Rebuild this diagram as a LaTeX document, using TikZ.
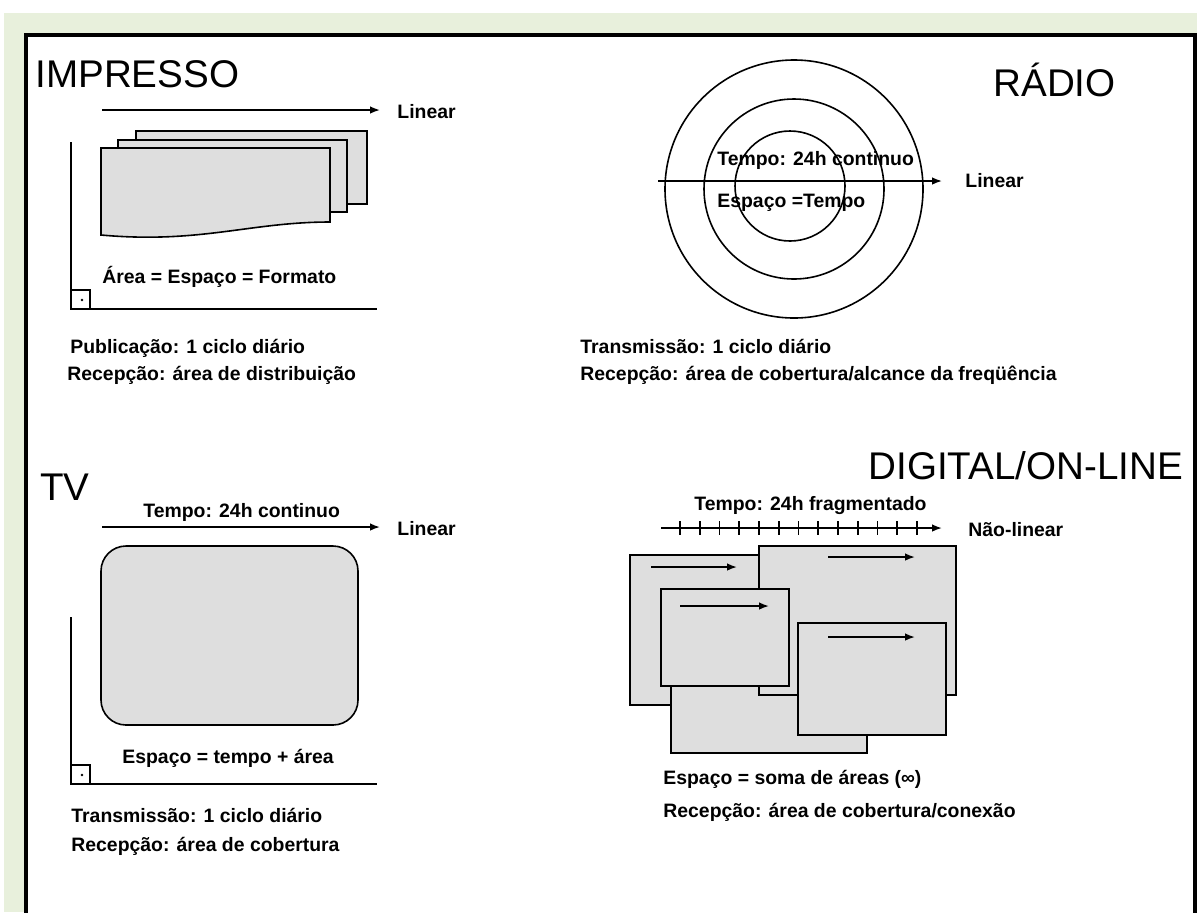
\documentclass[tikz,border=0pt]{standalone}
\usepackage{fontspec}
\setmainfont{Liberation Sans}
\usetikzlibrary{arrows.meta,positioning,calc}

\definecolor{bggreen}{RGB}{232,240,220}
\definecolor{pagegray}{RGB}{222,222,222}
\newcommand{\ttlfont}{\fontsize{19.3}{23}\selectfont}
\newcommand{\lblfont}{\bfseries\fontsize{9.7}{12}\selectfont}

\begin{document}
\begin{tikzpicture}[x=0.5pt, y=-0.5pt, >={Latex[length=5pt,width=3.8pt]},
  ttl/.style={font=\ttlfont, inner sep=0pt, anchor=base west},
  lbl/.style={font=\lblfont, inner sep=0pt, anchor=base west},
  axis/.style={->, line width=0.8pt},
  edge/.style={line width=0.8pt},
  sheet/.style={draw, fill=pagegray, line width=0.8pt}]
  % fundo e moldura
  \useasboundingbox (0,0) rectangle (1197,912);
  \fill[bggreen] (4,13) rectangle (1197,912);
  \fill[white] (26,35) rectangle (1195,920);
  \draw[line width=2pt] (26,925) -- (26,35) -- (1195,35) -- (1195,925);

  % IMPRESSO
  \node[ttl] (impTitle) at (35,87) {IMPRESSO};
  \coordinate (impA0) at (102,110);
  \coordinate (impA1) at (380,110);
  \draw[axis] (impA0) -- (impA1);
  \node[lbl] (impLin) at (397,118) {Linear};
  \draw[sheet] (136,131) rectangle (367,204);
  \draw[sheet] (118,140) rectangle (347,212);
  \draw[sheet] (101,148) -- (330,148) -- (330,222)
    .. controls (250,222) and (200,244) .. (101,235) -- cycle;
  \draw[edge] (71,142) -- (71,309) -- (377,309);
  \draw[edge] (71,290) -| (90,309);
  \fill (82,300) circle (1.4);
  \node[lbl] (impArea) at (102,283) {Área = Espaço = Formato};
  \node[lbl] (impPub) at (70,353) {Publicação: 1 ciclo diário};
  \node[lbl] (impRec) at (67,380) {Recepção: área de distribuição};

  % RÁDIO
  \node[ttl] (radTitle) at (993,96) {RÁDIO};
  \coordinate (radC) at (794,189);
  \draw[edge] (radC) circle (129);
  \draw[edge] (radC) circle (90);
  \draw[edge] (790,186) circle (55);
  \coordinate (radA0) at (658,181);
  \coordinate (radA1) at (942,181);
  \draw[axis] (radA0) -- (radA1);
  \node[lbl] (radLin) at (965,187) {Linear};
  \node[lbl] (radTempo) at (717,165) {Tempo: 24h continuo};
  \node[lbl] (radEsp) at (717,207) {Espaço =Tempo};
  \node[lbl] (radTrans) at (580,353) {Transmissão: 1 ciclo diário};
  \node[lbl] (radRec) at (580,380) {Recepção: área de cobertura/alcance da freqüência};

  % TV
  \node[ttl] (tvTitle) at (40,500) {TV};
  \node[lbl] (tvTempo) at (143,517) {Tempo: 24h continuo};
  \coordinate (tvA0) at (102,527);
  \coordinate (tvA1) at (380,527);
  \draw[axis] (tvA0) -- (tvA1);
  \node[lbl] (tvLin) at (397,535) {Linear};
  \draw[sheet, rounded corners=12.5pt] (101,546) rectangle (358,725);
  \draw[edge] (71,617) -- (71,784) -- (377,784);
  \draw[edge] (71,765) -| (90,784);
  \fill (82,775) circle (1.4);
  \node[lbl] (tvEsp) at (122,763) {Espaço = tempo + área};
  \node[lbl] (tvTrans) at (71,822) {Transmissão: 1 ciclo diário};
  \node[lbl] (tvRec) at (71,851) {Recepção: área de cobertura};

  % DIGITAL/ON-LINE
  \node[ttl] (digTitle) at (868,479) {DIGITAL/ON-LINE};
  \node[lbl] (digTempo) at (694,510) {Tempo: 24h fragmentado};
  \coordinate (digA0) at (661,528);
  \coordinate (digA1) at (942,528);
  \draw[axis] (digA0) -- (digA1);
  \foreach \i in {0,...,12}
    \draw[edge] ({680+19.75*\i},521) -- ({680+19.75*\i},535);
  \node[lbl] (digLin) at (968,536) {Não-linear};
  % janelas, de trás para a frente
  \draw[sheet] (630,555) rectangle (770,705);
  \draw[axis] (651,567) -- (737,567);
  \draw[sheet] (671,640) rectangle (867,753);
  \draw[sheet] (759,546) rectangle (956,695);
  \draw[axis] (828,557) -- (915,557);
  \draw[sheet] (661,589) rectangle (789,686);
  \draw[axis] (680,606) -- (769,606);
  \draw[sheet] (798,623) rectangle (946,735);
  \draw[axis] (828,637) -- (915,637);
  \node[lbl] (digEsp) at (663,784) {Espaço = soma de áreas (∞)};
  \node[lbl] (digRec) at (663,817) {Recepção: área de cobertura/conexão};
\end{tikzpicture}
\end{document}
